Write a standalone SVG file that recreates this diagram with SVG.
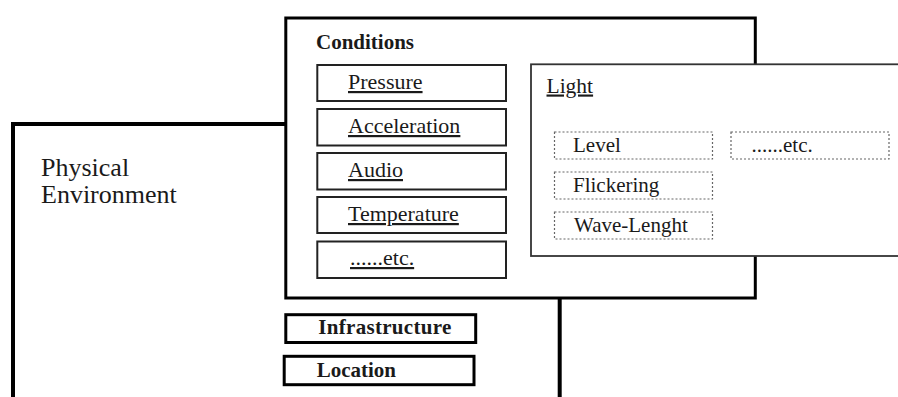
<svg xmlns="http://www.w3.org/2000/svg" width="898" height="397" viewBox="0 0 898 397">
<style>
text{font-family:'Liberation Serif','DejaVu Serif',serif;fill:#1a1a1a}
.b{font-weight:bold}
.u{text-decoration:underline}
.item{fill:#fff;stroke:#222;stroke-width:2}
.dot{fill:none;stroke:#666;stroke-width:1.2;stroke-dasharray:2 2}
.thick{fill:none;stroke:#000;stroke-width:4}
</style>
<rect width="898" height="397" fill="#fff"/>
<g id="physical-environment">
<path class="thick" d="M13,397 V124 H286"/>
<path class="thick" d="M559.7,298 V397"/>
<text x="41" y="175.5" font-size="26">Physical</text>
<text x="41" y="202.5" font-size="26">Environment</text>
</g>
<g id="conditions">
<rect x="285.8" y="18" width="469.5" height="280" fill="#fff" stroke="#000" stroke-width="3"/>
<text class="b" x="316" y="48.5" font-size="21">Conditions</text>
</g>
<g id="pressure"><rect class="item" x="317.3" y="65" width="188.7" height="36"/><text class="u" x="348" y="89" font-size="22">Pressure</text></g>
<g id="acceleration"><rect class="item" x="317.3" y="109" width="188.7" height="36.5"/><text class="u" x="348" y="133" font-size="22">Acceleration</text></g>
<g id="audio"><rect class="item" x="317.3" y="153" width="188.7" height="36.5"/><text class="u" x="348" y="177" font-size="22">Audio</text></g>
<g id="temperature"><rect class="item" x="317.3" y="197" width="188.7" height="36"/><text class="u" x="348" y="221" font-size="22">Temperature</text></g>
<g id="conditions-etc"><rect class="item" x="317.3" y="241.5" width="188.7" height="36.5"/><text class="u" x="350" y="265" font-size="22">......etc.</text></g>
<g id="light">
<rect x="531" y="64.3" width="380" height="191.7" fill="#fff" stroke="#333" stroke-width="1.8"/>
<text class="u" x="546.5" y="92.5" font-size="21.5">Light</text>
</g>
<g id="level"><rect class="dot" x="554.5" y="132" width="158" height="27"/><text x="573" y="151.7" font-size="21">Level</text></g>
<g id="light-etc"><rect class="dot" x="731" y="132" width="158" height="27"/><text x="751.5" y="151.7" font-size="21">......etc.</text></g>
<g id="flickering"><rect class="dot" x="554.5" y="172" width="158" height="27"/><text x="573" y="191.7" font-size="21">Flickering</text></g>
<g id="wave-length"><rect class="dot" x="554.5" y="212" width="158" height="27"/><text x="574" y="231.7" font-size="21">Wave-Lenght</text></g>
<g id="infrastructure"><rect x="285.8" y="314.7" width="189.9" height="27.8" fill="#fff" stroke="#000" stroke-width="3"/><text class="b" x="318.3" y="333.5" font-size="21" letter-spacing="0.3">Infrastructure</text></g>
<g id="location"><rect x="284.2" y="356.3" width="189.8" height="28.4" fill="#fff" stroke="#000" stroke-width="3"/><text class="b" x="316.7" y="376.7" font-size="21">Location</text></g>
</svg>
